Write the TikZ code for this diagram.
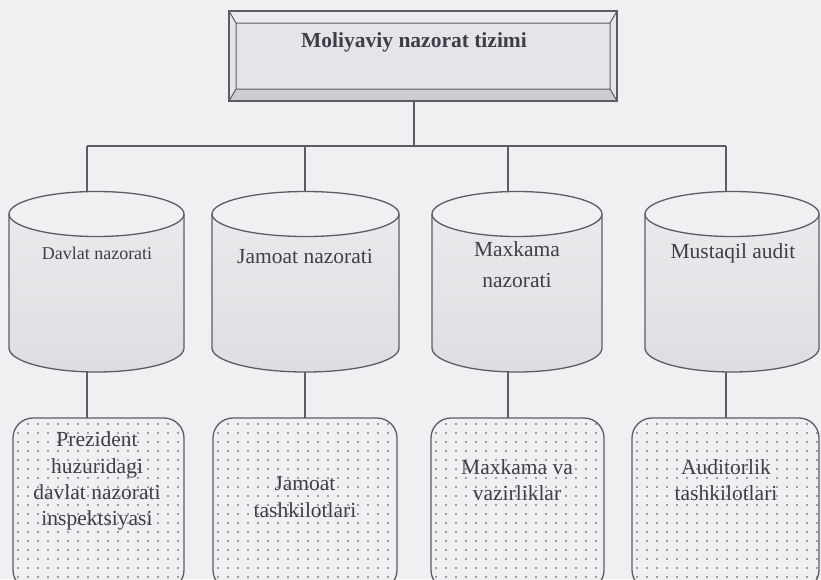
\documentclass[tikz,border=0pt]{standalone}
\usepackage{fontspec}
\setmainfont{Liberation Serif}
\definecolor{bg}{RGB}{240,240,243}
\definecolor{ln}{RGB}{92,92,100}
\definecolor{face}{RGB}{229,229,233}
\definecolor{topstrip}{RGB}{236,236,240}
\definecolor{botstrip}{RGB}{204,204,209}
\definecolor{cyltop}{RGB}{240,240,242}
\definecolor{cylA}{RGB}{236,236,239}
\definecolor{cylB}{RGB}{222,222,226}
\definecolor{dotc}{RGB}{128,128,136}
\definecolor{txt}{RGB}{62,62,70}
\tikzset{
  conn/.style={draw=ln,line width=1.3pt},
  edge/.style={draw=ln,line width=1.3pt},
  lbl/.style={text=txt,align=center,inner sep=0pt},
  holder/.style={inner sep=0pt,draw=none}
}
\begin{document}
\begin{tikzpicture}[x=1pt,y=-1pt]
\fill[bg] (0,0) rectangle (821,579);
\useasboundingbox (0,0) rectangle (821,579);

% ---------- top bevel box ----------
\fill[face] (229,11) rectangle (617,101);
\fill[topstrip] (229,11) -- (617,11) -- (610,23) -- (236,23) -- cycle;
\fill[botstrip] (229,101) -- (617,101) -- (610,89) -- (236,89) -- cycle;
\draw[edge] (229,11) rectangle (617,101);
\draw[edge,line width=1pt] (236,23) -- (610,23) (236,89) -- (610,89)
   (229,11) -- (236,23) -- (236,89) -- (229,101)
   (617,11) -- (610,23) -- (610,89) -- (617,101);
\node[holder,minimum width=388pt,minimum height=90pt] (top) at (423,56) {};
\node[lbl,font=\fontsize{21.5}{26}\selectfont\bfseries] (title) at (414,42) {Moliyaviy nazorat tizimi};

% ---------- cylinders ----------
\foreach \l/\r/\n in {9/184/1, 212/399/2, 432/602/3, 645/819/4}{
  \pgfmathsetmacro{\cx}{(\l+\r)/2}
  \pgfmathsetmacro{\rx}{(\r-\l)/2}
  \shade[top color=cylA,bottom color=cylB]
     (\l,214) -- (\l,348) arc[start angle=180,end angle=0,x radius=\rx,y radius=24]
     -- (\r,214) arc[start angle=0,end angle=-180,x radius=\rx,y radius=22.5] -- cycle;
  \draw[edge]
     (\l,214) -- (\l,348) arc[start angle=180,end angle=0,x radius=\rx,y radius=24]
     -- (\r,214);
  \filldraw[fill=cyltop,draw=ln,line width=1.3pt] (\cx,214) ellipse[x radius=\rx,y radius=22.5];
  \node[holder,minimum width={\r-\l},minimum height=180pt] (cyl\n) at (\cx,282) {};
}

% ---------- bottom rounded dotted boxes ----------
\foreach \l/\r/\n in {13/184/1, 213/397/2, 431/604/3, 632/819/4}{
  \begin{scope}
    \clip[rounded corners=20pt] (\l,418) rectangle (\r,590);
    \fill[bg] (\l,418) rectangle (\r,590);
    \foreach \i in {0,...,18}{
      \foreach \j in {0,...,19}{
        \fill[dotc] ({\l+5+10*\i},{424+9*\j}) circle (1.05pt);
      }
    }
  \end{scope}
  \draw[edge,rounded corners=20pt] (\l,418) rectangle (\r,590);
  \node[holder,minimum width={\r-\l},minimum height=172pt] (box\n) at ({(\l+\r)/2},504) {};
}

% ---------- labels ----------
\node[lbl,font=\fontsize{18}{22}\selectfont] (t1) at (97,253) {Davlat nazorati};
\node[lbl,font=\fontsize{21.5}{26}\selectfont] (t2) at (305,256) {Jamoat nazorati};
\node[lbl,font=\fontsize{21.5}{31}\selectfont] (t3) at (517,265) {Maxkama\\nazorati};
\node[lbl,font=\fontsize{21.5}{26}\selectfont] (t4) at (733,253) {Mustaqil audit};

\node[lbl,font=\fontsize{21.5}{26.3}\selectfont] (b1) at (97,481) {Prezident\\huzuridagi\\davlat nazorati\\inspektsiyasi};
\node[lbl,font=\fontsize{21.5}{26.3}\selectfont] (b2) at (305,497) {Jamoat\\tashkilotlari};
\node[lbl,font=\fontsize{21.5}{26.3}\selectfont] (b3) at (517,480) {Maxkama va\\vazirliklar};
\node[lbl,font=\fontsize{21.5}{26.3}\selectfont] (b4) at (726,480) {Auditorlik\\tashkilotlari};

% ---------- connectors ----------
\coordinate (hub) at (414,146);
\coordinate (h1) at (87,146);
\coordinate (h2) at (305,146);
\coordinate (h3) at (508,146);
\coordinate (h4) at (726,146);
\coordinate (c1t) at (87,191.6);
\coordinate (c2t) at (305,191.5);
\coordinate (c3t) at (508,191.6);
\coordinate (c4t) at (726,191.6);
\coordinate (c1b) at (87,371.6);
\coordinate (c2b) at (305,372);
\coordinate (c3b) at (508,371.8);
\coordinate (c4b) at (726,371.9);
\coordinate (k1) at (87,418);
\coordinate (k2) at (305,418);
\coordinate (k3) at (508,418);
\coordinate (k4) at (726,418);

\draw[conn] (top.south -| hub) -- (hub);
\draw[conn] (h1) -- (h4);
\foreach \n in {1,2,3,4}{
  \draw[conn] (h\n) -- (c\n t);
  \draw[conn] (c\n b) -- (k\n);
}
\end{tikzpicture}
\end{document}
